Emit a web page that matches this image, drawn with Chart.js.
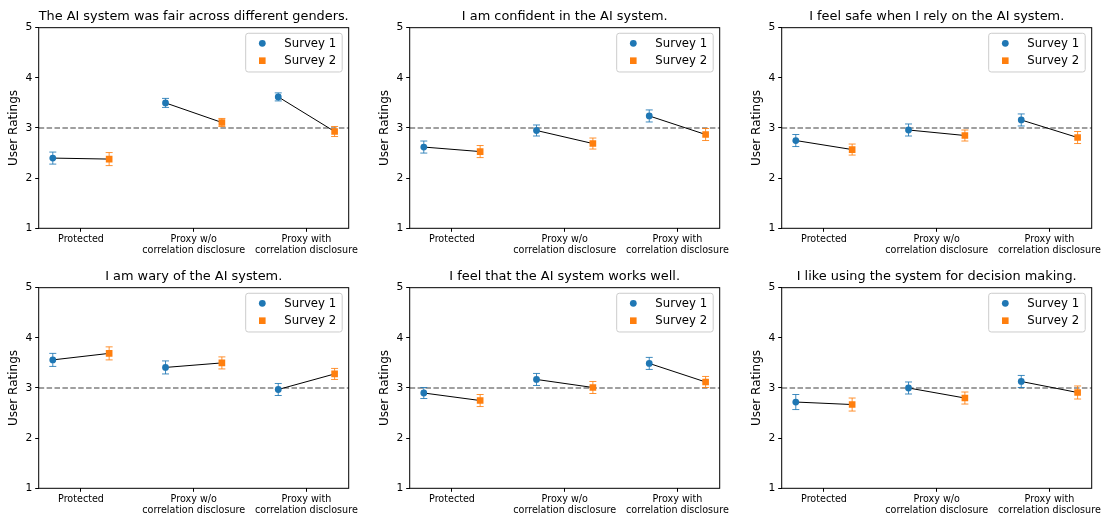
<!DOCTYPE html>
<html>
<head>
<meta charset="utf-8">
<script src="https://cdn.jsdelivr.net/npm/chart.js@4.4.0/dist/chart.umd.min.js"></script>
<style>
  html, body { margin: 0; padding: 0; background: #fff; overflow: hidden; }
  #wrap { position: relative; width: 1101px; height: 515px; }
  .panel { position: absolute; width: 367px; height: 258px; }
</style>
</head>
<body>
<div id="wrap"></div>
<script>
const panelTitles = [
  "The AI system was fair across different genders.",
  "I am confident in the AI system.",
  "I feel safe when I rely on the AI system.",
  "I am wary of the AI system.",
  "I feel that the AI system works well.",
  "I like using the system for decision making."
];
const categories = ["Protected", ["Proxy w/o", "correlation disclosure"], ["Proxy with", "correlation disclosure"]];
const seriesNames = ["Survey 1", "Survey 2"];

const survey1Means = [
  [2.40, 3.50, 3.62],
  [2.62, 2.95, 3.24],
  [2.75, 2.96, 3.16],
  [3.56, 3.41, 2.97],
  [2.90, 3.17, 3.49],
  [2.72, 3.00, 3.13]
];
const survey2Means = [
  [2.38, 3.11, 2.93],
  [2.53, 2.69, 2.87],
  [2.57, 2.85, 2.81],
  [3.69, 3.50, 3.28],
  [2.75, 3.01, 3.12],
  [2.67, 2.80, 2.91]
];
const survey1Err = [
  [0.12, 0.09, 0.08],
  [0.12, 0.11, 0.12],
  [0.12, 0.12, 0.12],
  [0.13, 0.13, 0.12],
  [0.11, 0.12, 0.12],
  [0.15, 0.12, 0.12]
];
const survey2Err = [
  [0.13, 0.08, 0.10],
  [0.12, 0.11, 0.12],
  [0.11, 0.11, 0.12],
  [0.13, 0.12, 0.11],
  [0.12, 0.12, 0.11],
  [0.13, 0.12, 0.13]
];
const yTicks = [1, 2, 3, 4, 5];
const neutralRating = 3;

const BLUE = "#1f77b4";
const ORANGE = "#ff7f0e";
const FONT = "DejaVu Sans";
const OFFSET = 0.25;

function drawMarker(ctx, style, x, y, color) {
  ctx.fillStyle = color;
  ctx.beginPath();
  if (style === "circle") {
    ctx.arc(x, y, 3.4, 0, Math.PI * 2);
  } else {
    ctx.rect(x - 3.3, y - 3.3, 6.6, 6.6);
  }
  ctx.fill();
}

function makePanel(p) {
  const col = p % 3, row = Math.floor(p / 3);
  const padLeft = [3, 7, 12][col];
  const padRight = [18.3, 14.3, 9.3][col];

  const div = document.createElement("div");
  div.className = "panel";
  div.style.left = (col * 367) + "px";
  div.style.top = [0, 259.6][row] + "px";
  const canvas = document.createElement("canvas");
  canvas.width = 367;
  canvas.height = 258;
  div.appendChild(canvas);
  document.getElementById("wrap").appendChild(div);

  const s1 = survey1Means[p], s2 = survey2Means[p];
  const e1 = survey1Err[p], e2 = survey2Err[p];

  const datasets = [
    {
      label: seriesNames[0],
      data: s1.map((v, i) => ({ x: i - OFFSET, y: v })),
      pointStyle: "circle", pointRadius: 3.4, borderWidth: 0,
      backgroundColor: BLUE, borderColor: BLUE, order: 0
    },
    {
      label: seriesNames[1],
      data: s2.map((v, i) => ({ x: i + OFFSET, y: v })),
      pointStyle: "rect", pointRadius: 4.7, borderWidth: 0,
      backgroundColor: ORANGE, borderColor: ORANGE, order: 0
    }
  ];
  categories.forEach((c, i) => {
    datasets.push({
      label: "link" + i,
      data: [{ x: i - OFFSET, y: s1[i] }, { x: i + OFFSET, y: s2[i] }],
      showLine: true, borderColor: "#000", borderWidth: 1,
      pointRadius: 0, fill: false, order: 1
    });
  });

  const extras = {
    id: "extras",
    beforeDatasetsDraw(chart) {
      const ctx = chart.ctx, ca = chart.chartArea, ys = chart.scales.y;
      // dashed reference line
      const yr = ys.getPixelForValue(neutralRating);
      ctx.save();
      ctx.strokeStyle = "#808080";
      ctx.lineWidth = 1.3;
      ctx.setLineDash([5.5, 2.4]);
      ctx.beginPath();
      ctx.moveTo(ca.left, yr);
      ctx.lineTo(ca.right, yr);
      ctx.stroke();
      ctx.restore();
      // error bars
      [[0, s1, e1, BLUE], [1, s2, e2, ORANGE]].forEach(([di, means, errs, color]) => {
        const pts = chart.getDatasetMeta(di).data;
        ctx.save();
        ctx.strokeStyle = color;
        ctx.globalAlpha = 0.85;
        ctx.lineWidth = 1;
        means.forEach((m, i) => {
          const x = pts[i].x;
          const yt = ys.getPixelForValue(m + errs[i]);
          const yb = ys.getPixelForValue(m - errs[i]);
          ctx.beginPath();
          ctx.moveTo(x, yt); ctx.lineTo(x, yb);
          ctx.moveTo(x - 3.5, yt); ctx.lineTo(x + 3.5, yt);
          ctx.moveTo(x - 3.5, yb); ctx.lineTo(x + 3.5, yb);
          ctx.stroke();
        });
        ctx.restore();
      });
    },
    afterDraw(chart) {
      const ctx = chart.ctx, ca = chart.chartArea;
      ctx.save();
      // frame
      ctx.strokeStyle = "#000";
      ctx.lineWidth = 1;
      ctx.strokeRect(ca.left, ca.top, ca.width, ca.height);
      // legend
      const bw = 96.5, bh = 38.7;
      const bx = ca.right - 6.5 - bw, by = ca.top + 5.6;
      ctx.fillStyle = "rgba(255,255,255,0.8)";
      ctx.strokeStyle = "#cccccc";
      ctx.beginPath();
      ctx.roundRect(bx, by, bw, bh, 2.5);
      ctx.fill();
      ctx.stroke();
      const rows = [["circle", BLUE], ["rect", ORANGE]];
      ctx.font = "11.7px '" + FONT + "'";
      ctx.textBaseline = "middle";
      ctx.textAlign = "left";
      rows.forEach(([style, color], k) => {
        const ry = by + 10 + k * 17.4;
        drawMarker(ctx, style, bx + 16.6, ry, color);
        ctx.fillStyle = "#000";
        ctx.fillText(seriesNames[k], bx + 38.6, ry + 0.5);
      });
      ctx.restore();
    }
  };

  new Chart(canvas, {
    type: "scatter",
    data: { datasets },
    plugins: [extras],
    options: {
      responsive: false,
      animation: false,
      events: [],
      layout: { padding: { left: padLeft, right: padRight, top: 0, bottom: 0 } },
      plugins: {
        legend: { display: false },
        tooltip: { enabled: false },
        title: {
          display: true,
          text: panelTitles[p],
          fullSize: false,
          color: "#000",
          font: { family: FONT, size: 12.9, weight: "normal" },
          padding: { top: 8.96, bottom: 3.24 }
        }
      },
      scales: {
        x: {
          type: "linear",
          min: -0.375,
          max: 2.375,
          afterBuildTicks: s => { s.ticks = categories.map((c, i) => ({ value: i })); },
          afterFit: s => { s.height = 29.7; s.paddingLeft = 0; s.paddingRight = 0; },
          ticks: {
            callback: v => categories[v],
            color: "#000",
            font: { family: FONT, size: 9.6 },
            padding: 1.5,
            maxRotation: 0,
            autoSkip: false
          },
          grid: { drawOnChartArea: false, tickLength: 3.5, color: "#000" },
          border: { display: false }
        },
        y: {
          min: yTicks[0],
          max: yTicks[yTicks.length - 1],
          afterBuildTicks: s => { s.ticks = yTicks.map(v => ({ value: v })); },
          afterFit: s => { s.width = 35.7; s.paddingTop = 0; s.paddingBottom = 0; },
          ticks: {
            color: "#000",
            font: { family: FONT, size: 10.7 },
            padding: 3
          },
          grid: { drawOnChartArea: false, tickLength: 3.5, color: "#000" },
          border: { display: false },
          title: {
            display: true,
            text: "User Ratings",
            color: "#000",
            font: { family: FONT, size: 12 },
            padding: { top: 4, bottom: 0 }
          }
        }
      }
    }
  });
}

for (let p = 0; p < panelTitles.length; p++) makePanel(p);
</script>
</body>
</html>
